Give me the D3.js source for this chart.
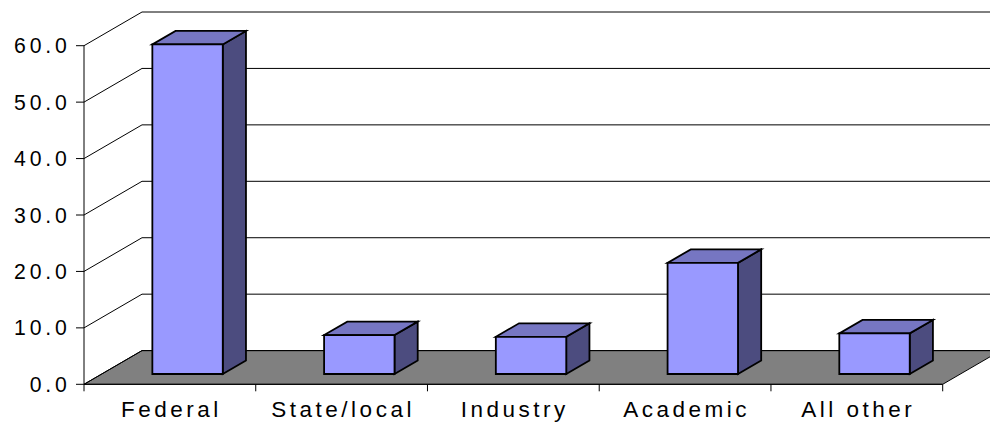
<!DOCTYPE html>
<html>
<head>
<meta charset="utf-8">
<script src="https://cdn.jsdelivr.net/npm/d3@7"></script>
<style>
  html, body { margin: 0; padding: 0; background: #fff; }
  svg { display: block; }
  text { font-family: "Liberation Sans", Arial, sans-serif; fill: #000; }
</style>
</head>
<body>
<svg id="chart" width="990" height="422"></svg>
<script>
// Funding source shares (percent)
const categories = ["Federal", "State/local", "Industry", "Academic", "All other"];
const values = [58.4, 6.9, 6.6, 19.7, 7.2];
const yTicks = [0, 10, 20, 30, 40, 50, 60];
const yTickLabels = ["0.0", "10.0", "20.0", "30.0", "40.0", "50.0", "60.0"];

const W = 990, H = 422;
const svg = d3.select("#chart");

// Front plane scales
const x = d3.scaleBand().domain(categories).range([84, 942.7]).padding(0);
const y = d3.scaleLinear().domain([0, 60]).range([384.3, 45.7]);

// Oblique depth: d = 0 front, d = 1 back wall
const depthX = 58, depthY = -33.7;
const P = (px, v, d) => [px + d * depthX, y(v) + d * depthY];
const pathOf = pts => "M" + pts.map(p => p.join(",")).join("L") + "Z";

const x0 = x.range()[0], x1 = x.range()[1];
const xBackEnd = x1 + depthX;

// Floor
svg.append("path")
  .attr("d", pathOf([P(x0, 0, 0), P(x1, 0, 0), P(x1, 0, 1), P(x0, 0, 1)]))
  .attr("fill", "#808080")
  .attr("stroke", "#000")
  .attr("stroke-width", 1);

// Gridlines on left and back walls
const grid = svg.append("g").attr("fill", "none").attr("stroke", "#000").attr("stroke-width", 1);
yTicks.forEach(v => {
  const a = P(x0, v, 0), b = P(x0, v, 1), c = P(xBackEnd, v, 1);
  grid.append("path").attr("d", `M${a}L${b}L${c}`);
});

// Value axis
const axisG = svg.append("g");
axisG.append("line")
  .attr("x1", x0).attr("x2", x0)
  .attr("y1", y(60)).attr("y2", y(0))
  .attr("stroke", "#000").attr("stroke-width", 1);
yTicks.forEach((v, i) => {
  axisG.append("line")
    .attr("x1", x0 - 8).attr("x2", x0)
    .attr("y1", y(v)).attr("y2", y(v))
    .attr("stroke", "#000").attr("stroke-width", 1);
  axisG.append("text")
    .attr("x", 70.5).attr("y", y(v) + 7.5)
    .attr("text-anchor", "end")
    .attr("font-size", 21.2)
    .attr("letter-spacing", 3.8)
    .text(yTickLabels[i]);
});

// Category axis
axisG.append("line")
  .attr("x1", x0).attr("x2", x1)
  .attr("y1", y(0)).attr("y2", y(0))
  .attr("stroke", "#000").attr("stroke-width", 1);
const boundaries = categories.map(c => x(c)).concat([x1]);
boundaries.forEach(bx => {
  axisG.append("line")
    .attr("x1", bx).attr("x2", bx)
    .attr("y1", y(0)).attr("y2", y(0) + 7)
    .attr("stroke", "#000").attr("stroke-width", 1);
});
categories.forEach(c => {
  axisG.append("text")
    .attr("x", x(c) + x.bandwidth() / 2 + 1.5)
    .attr("y", 416.7)
    .attr("text-anchor", "middle")
    .attr("font-size", 22.5)
    .attr("letter-spacing", 3.5)
    .text(c);
});

// 3D bars
const barFrac = 0.41;
const d0 = 0.305, d1 = 0.705;
const bars = svg.append("g")
  .attr("stroke", "#000")
  .attr("stroke-width", 1.8)
  .attr("stroke-linejoin", "miter");
categories.forEach((c, i) => {
  const v = values[i];
  const bw = x.bandwidth() * barFrac;
  const l = x(c) + (x.bandwidth() - bw) / 2;
  const r = l + bw;
  const g = bars.append("g");
  // side face
  g.append("path")
    .attr("d", pathOf([P(r, 0, d0), P(r, 0, d1), P(r, v, d1), P(r, v, d0)]))
    .attr("fill", "#4c4c7f");
  // top face
  g.append("path")
    .attr("d", pathOf([P(l, v, d0), P(r, v, d0), P(r, v, d1), P(l, v, d1)]))
    .attr("fill", "#7676c2");
  // front face
  g.append("path")
    .attr("d", pathOf([P(l, 0, d0), P(r, 0, d0), P(r, v, d0), P(l, v, d0)]))
    .attr("fill", "#9999ff");
});
</script>
</body>
</html>
